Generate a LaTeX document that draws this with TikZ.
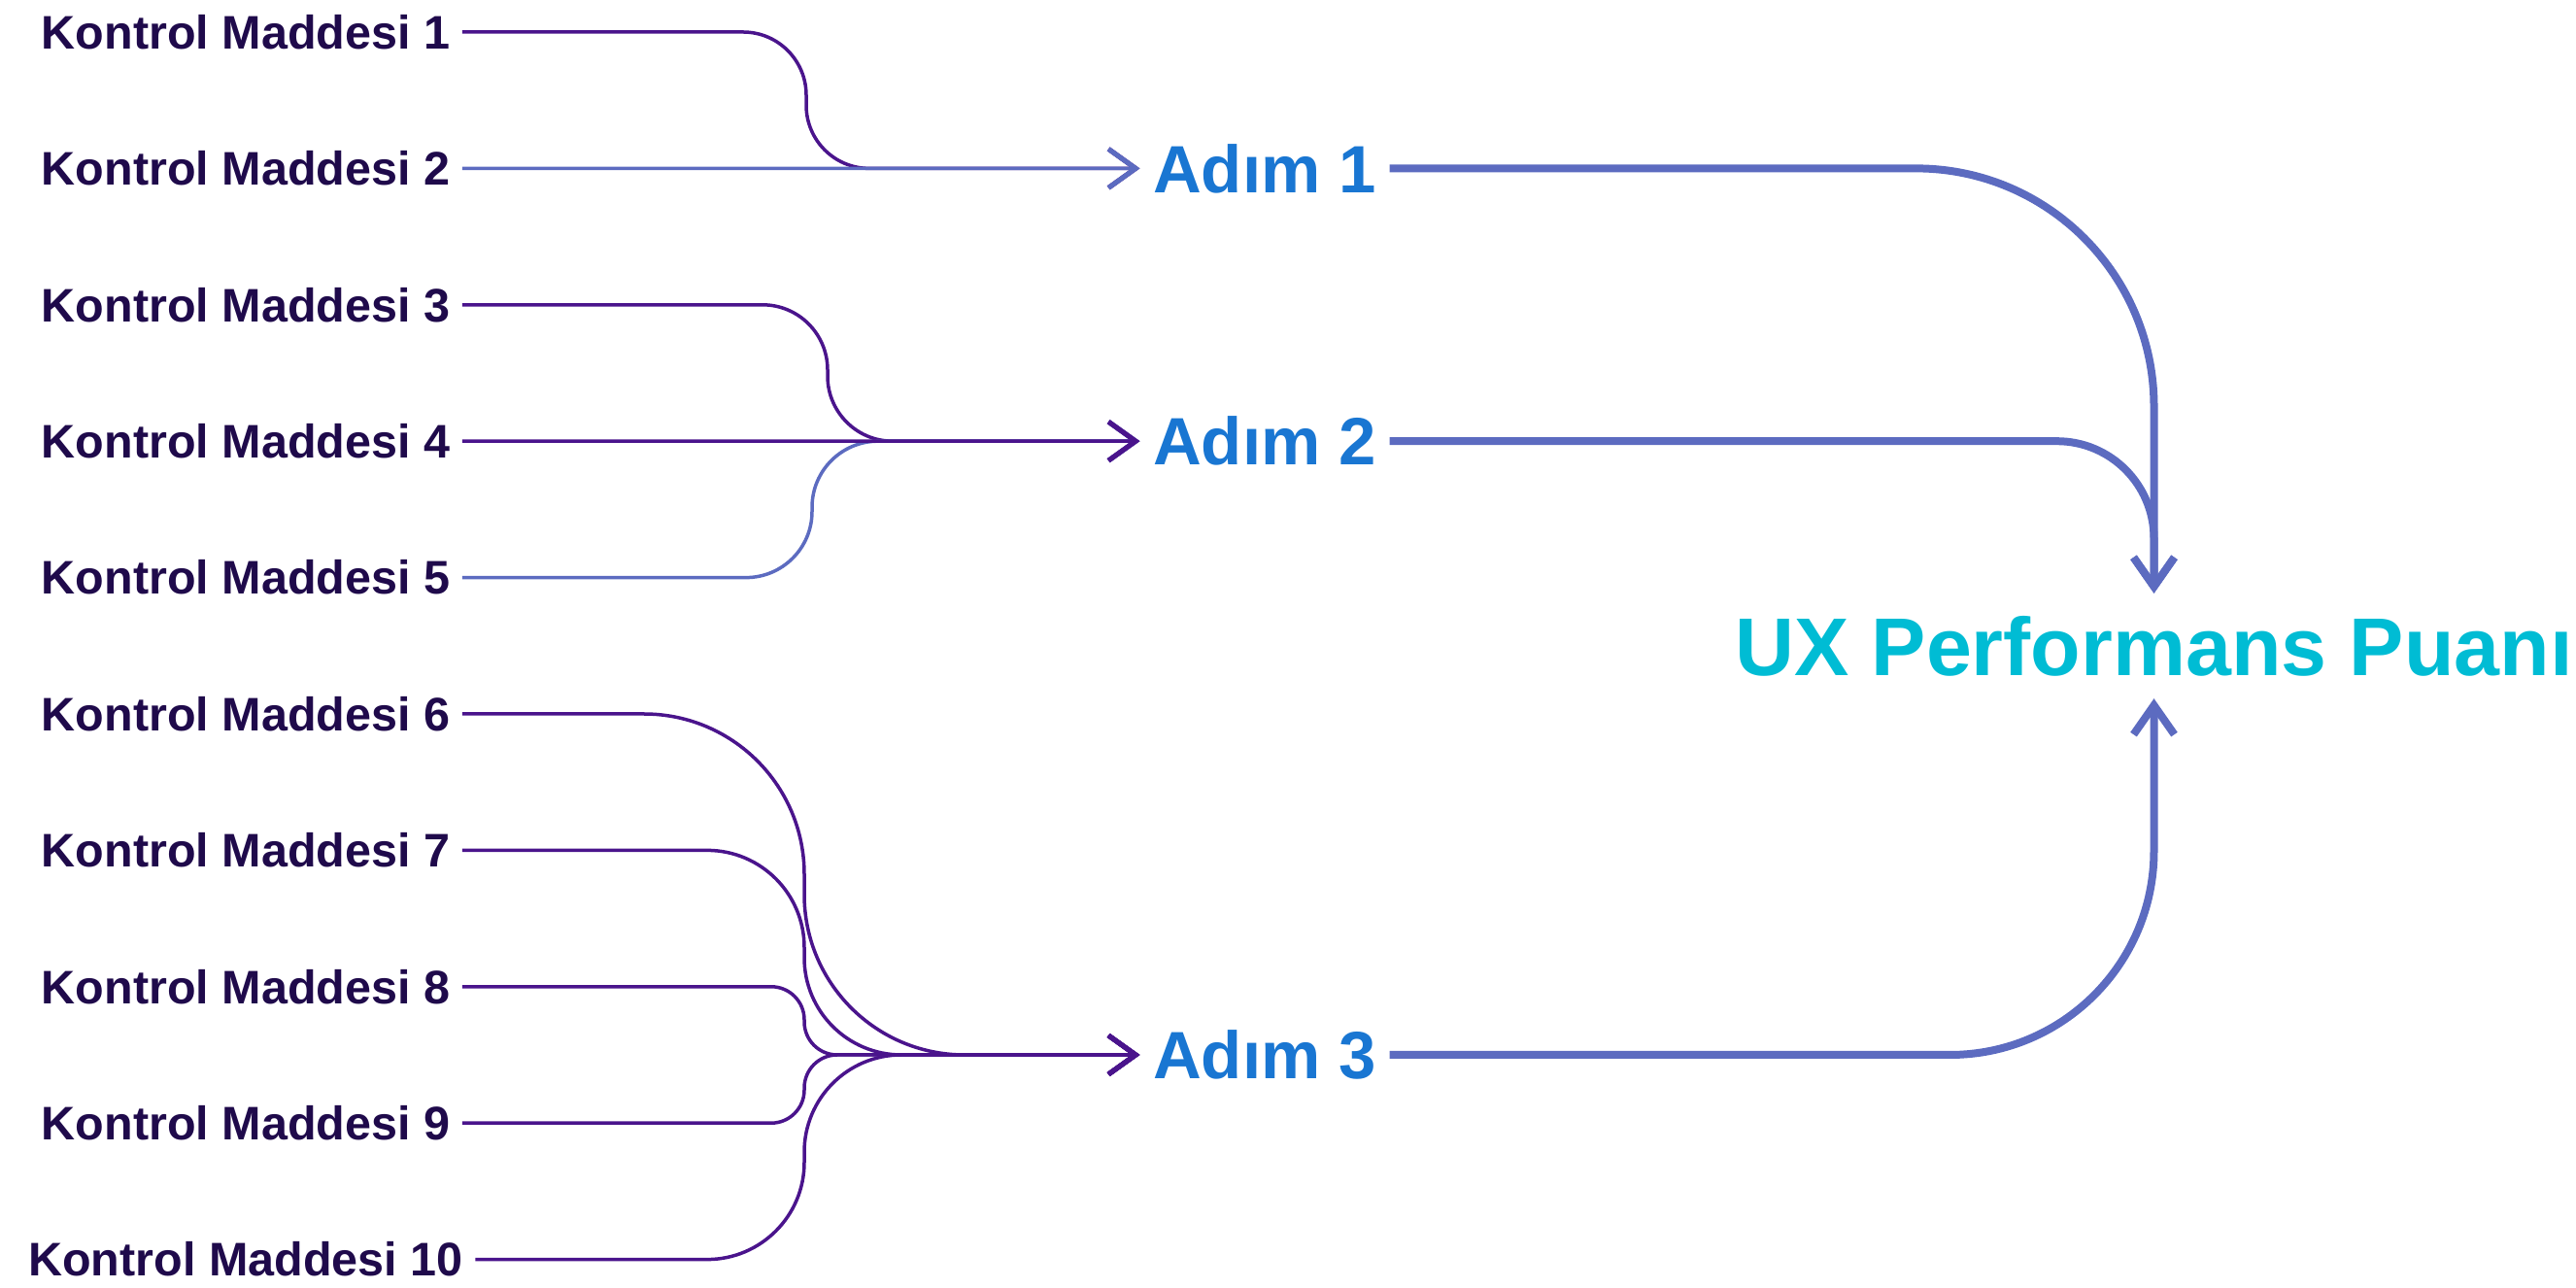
\documentclass[tikz,border=0pt]{standalone}
\usepackage{fontspec}
\setmainfont{Liberation Sans}
\usepackage{tikz}
\usetikzlibrary{arrows.meta}
\definecolor{itemtext}{HTML}{1F0A4B}
\definecolor{steptext}{HTML}{1976D2}
\definecolor{scoretext}{HTML}{00BCD4}
\definecolor{linkpurple}{HTML}{4A148C}
\definecolor{linkblue}{HTML}{5C6BC0}
\tikzstyle{item} = [text=itemtext, font=\fontsize{13.8}{17}\selectfont\bfseries,
    inner xsep=0.12cm, inner ysep=0pt]
\tikzstyle{stepnode} = [text=steptext, font=\fontsize{19.6}{24}\selectfont\bfseries,
    inner xsep=0.13cm, inner ysep=0pt]
\tikzstyle{score} = [text=scoretext, font=\fontsize{24}{29}\selectfont\bfseries,
    inner xsep=0pt, inner ysep=0.225cm]
\tikzstyle{link} = [->, >={Straight Barb[length=0.28cm, width=0.4cm, line width=0.05cm]},
    line width=0.035cm, draw=linkpurple]
\tikzstyle{linkb} = [link, draw=linkblue]
\tikzstyle{flow} = [->, >={Straight Barb[length=0.3cm, width=0.42cm]},
    line width=0.08cm, draw=linkblue]

\begin{document}
\begin{tikzpicture}[node distance=1.404cm]
  \useasboundingbox (0,0) rectangle (26.52,-13.26);

  \node[item] (k1) at (2.53,-0.33) {Kontrol Maddesi 1};
  \node[item] (k2) [below of=k1] {Kontrol Maddesi 2};
  \node[item] (k3) [below of=k2] {Kontrol Maddesi 3};
  \node[item] (k4) [below of=k3] {Kontrol Maddesi 4};
  \node[item] (k5) [below of=k4] {Kontrol Maddesi 5};
  \node[item] (k6) [below of=k5] {Kontrol Maddesi 6};
  \node[item] (k7) [below of=k6] {Kontrol Maddesi 7};
  \node[item] (k8) [below of=k7] {Kontrol Maddesi 8};
  \node[item] (k9) [below of=k8] {Kontrol Maddesi 9};
  \node[item] (k10) [below of=k9] {Kontrol Maddesi 10};

  \node[stepnode] (s1) at (13.02,-1.734) {Adım 1};
  \node[stepnode] (s2) at (13.02,-4.542) {Adım 2};
  \node[stepnode] (s3) at (13.02,-10.86) {Adım 3};

  \node[score] (ux) at (22.175,-6.65) {UX Performans Puanı};

  % bends of the thin links
  \coordinate (v1) at (8.3,0);
  \coordinate (v2) at (8.52,0);
  \coordinate (v2b) at (8.36,0);
  \coordinate (v3) at (8.28,0);

  \draw[link, rounded corners=0.65cm] (k1.east) -| (v1 |- s1.west) -- (s1.west);
  \path (k2) edge[linkb] (s1);

  \draw[link, rounded corners=0.67cm] (k3.east) -| (v2 |- s2.west) -- (s2.west);
  \draw[linkb, rounded corners=0.68cm] (k5.east) -| (v2b |- s2.west) -- (s2.west);
  \path (k4) edge[link] (s2);

  \draw[link, rounded corners=1.65cm] (k6.east) -| (v3 |- s3.west) -- (s3.west);
  \draw[link, rounded corners=1.0cm] (k7.east) -| (v3 |- s3.west) -- (s3.west);
  \draw[link, rounded corners=0.34cm] (k8.east) -| (v3 |- s3.west) -- (s3.west);
  \draw[link, rounded corners=0.34cm] (k9.east) -| (v3 |- s3.west) -- (s3.west);
  \draw[link, rounded corners=1.0cm] (k10.east) -| (v3 |- s3.west) -- (s3.west);

  \draw[flow, rounded corners=2.45cm] (s1.east) -| (ux.north);
  \draw[flow, rounded corners=1.0cm] (s2.east) -| (ux.north);
  \draw[flow, rounded corners=2.1cm] (s3.east) -| (ux.south);
\end{tikzpicture}
\end{document}
